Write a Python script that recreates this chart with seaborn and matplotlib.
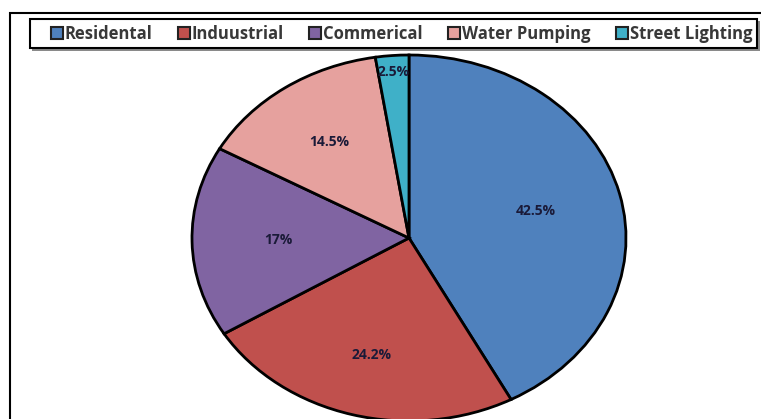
import matplotlib
matplotlib.use("Agg")
import matplotlib.pyplot as plt
import seaborn as sns
from matplotlib.patches import Rectangle

categories = ["Residental", "Induustrial", "Commerical", "Water Pumping", "Street Lighting"]
values = [42.5, 24.2, 17, 14.5, 2.5]
pct_labels = ["42.5%", "24.2%", "17%", "14.5%", "2.5%"]
colors = ["#4F81BD", "#C0504D", "#8064A2", "#E6A19E", "#3FB0C8"]
label_dist = [0.6, 0.66, 0.6, 0.64, 0.91]

sns.set_theme(style="white")
plt.rcParams["font.family"] = ["Open Sans", "DejaVu Sans"]

W, H = 761, 419
fig = plt.figure(figsize=(W / 100, H / 100), dpi=100)
ax = fig.add_axes([0, 0, 1, 1])

cx, cy, rx, ry = 409, 238, 217, 183
it = iter(pct_labels)
wedges, texts, autotexts = ax.pie(
    values, colors=colors, startangle=90, counterclock=False,
    autopct=lambda p: next(it), pctdistance=1.0,
    wedgeprops=dict(edgecolor="black", linewidth=2),
    textprops=dict(fontsize=10, fontweight="bold", color="#1a1a38"),
)
for t, d in zip(autotexts, label_dist):
    x, y = t.get_position()
    t.set_position((x * d, y * d))
ax.set_aspect("auto")
ax.set_xlim(-cx / rx, (W - cx) / rx)
ax.set_ylim(-(H - cy) / ry, cy / ry)
ax.axis("off")

def frect(x0, y0, x1, y1, **kw):
    return Rectangle((x0 / W, 1 - y1 / H), (x1 - x0) / W, (y1 - y0) / H,
                     transform=fig.transFigure, **kw)

# outer frame
fig.patches.append(frect(10, 13, 800, 460, fill=False, edgecolor="black", linewidth=1.5, zorder=0))

# legend box with shadow
fig.patches.append(frect(32, 21, 760, 51, facecolor="#8a8a8a", edgecolor="none", zorder=1))
fig.patches.append(frect(30, 19, 757, 48, facecolor="white", edgecolor="black", linewidth=1.5, zorder=2))

x0, x1, y0, y1 = 51, 752, 20, 48
leg = fig.legend(wedges, categories, loc="center left",
                 bbox_to_anchor=(x0 / W, 1 - y1 / H, (x1 - x0) / W, (y1 - y0) / H),
                 mode="expand", ncol=5, frameon=False,
                 prop=dict(family="Open Sans", weight="bold", size=12),
                 handlelength=0.7, handleheight=0.7, handletextpad=0.12,
                 columnspacing=0.5, borderpad=0.0, borderaxespad=0,
                 labelcolor="#383838")
leg.set_zorder(3)
for h in leg.legend_handles:
    h.set_linewidth(1.5)
    h.set_edgecolor("#222222")

fig.savefig("out.png", dpi=100)
